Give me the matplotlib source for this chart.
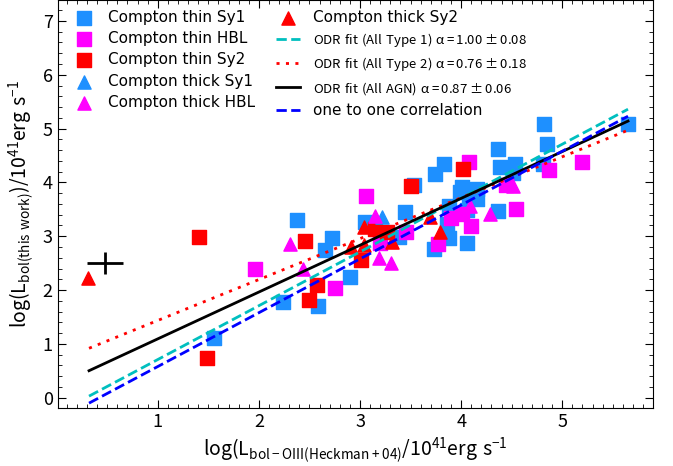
import numpy as np
import matplotlib
matplotlib.use('Agg')
import matplotlib.pyplot as plt
from matplotlib.ticker import MultipleLocator

plt.rcParams['mathtext.fontset'] = 'custom'
plt.rcParams['mathtext.rm'] = 'Noto Sans CJK JP'
plt.rcParams['mathtext.it'] = 'Noto Sans CJK JP'
plt.rcParams['mathtext.bf'] = 'Noto Sans CJK JP'

# Compton thin Sy1
thin_sy1_x = [2.38, 2.72, 2.65, 1.56, 2.24, 2.58, 2.90, 3.05, 3.44, 3.39, 4.82, 4.85, 5.65,
              4.81, 4.36, 4.38, 4.53, 4.51, 3.83, 3.74, 3.53, 4.01, 3.99, 4.16, 4.16, 3.88,
              4.36, 4.06, 3.86, 3.88, 3.73, 4.06, 4.08]
thin_sy1_y = [3.31, 2.97, 2.74, 1.11, 1.78, 1.70, 2.25, 3.27, 3.45, 2.99, 5.09, 4.71, 5.08,
              4.35, 4.63, 4.28, 4.35, 4.18, 4.34, 4.15, 3.96, 3.91, 3.83, 3.87, 3.70, 3.56,
              3.47, 3.48, 3.22, 2.96, 2.76, 2.87, 3.75]
# Compton thin HBL
thin_hbl_x = [1.96, 2.75, 3.06, 3.45, 3.20, 4.08, 5.20, 4.87, 4.44, 4.54, 4.01, 3.90, 4.10, 3.77]
thin_hbl_y = [2.40, 2.04, 3.75, 3.08, 2.87, 4.38, 4.38, 4.24, 3.95, 3.50, 3.42, 3.33, 3.19, 2.85]
# Compton thin Sy2
thin_sy2_x = [1.41, 1.49, 2.46, 2.57, 2.50, 3.01, 3.15, 3.27, 3.50, 4.02]
thin_sy2_y = [2.99, 0.73, 2.92, 2.09, 1.82, 2.56, 3.14, 3.08, 3.94, 4.25]
# Compton thick Sy1
thick_sy1_x = [3.22]
thick_sy1_y = [3.35]
# Compton thick HBL
thick_hbl_x = [2.31, 2.44, 3.15, 3.19, 3.31, 4.51, 4.09, 4.29]
thick_hbl_y = [2.85, 2.40, 3.37, 2.59, 2.50, 3.94, 3.56, 3.42]
# Compton thick Sy2
thick_sy2_x = [0.31, 2.91, 3.04, 3.04, 3.32, 3.79, 3.69]
thick_sy2_y = [2.22, 2.80, 3.18, 2.83, 2.90, 3.08, 3.35]

# fits: slope, intercept
fit_labels = [r'$\mathrm{ODR\ fit\ (All\ Type\ 1)}\ \alpha=1.00\pm0.08$',
              r'$\mathrm{ODR\ fit\ (All\ Type\ 2)}\ \alpha=0.76\pm0.18$',
              r'$\mathrm{ODR\ fit\ (All\ AGN)}\ \alpha=0.87\pm0.06$',
              'one to one correlation']
fit_slope = [1.00, 0.76, 0.87, 1.00]
fit_icept = [-0.29, 0.676, 0.224, -0.42]
fit_styles = [('c', (0, (3.7, 1.6))), ('r', (0, (1.1, 2.3))), ('k', '-'), ('b', (0, (3.7, 1.6)))]
fit_range = [0.32, 5.65]

# typical error
err_x, err_y, err_dx, err_dy = 0.48, 2.5, 0.18, 0.2

fig = plt.figure(figsize=(6.73, 4.66), dpi=100)
ax = fig.add_axes([0.0857, 0.1245, 0.885, 0.8745])

ms = 90
handles = []
handles.append(ax.scatter(thin_sy1_x, thin_sy1_y, s=ms, marker='s', color='dodgerblue', label='Compton thin Sy1'))
handles.append(ax.scatter(thin_hbl_x, thin_hbl_y, s=ms, marker='s', color='magenta', label='Compton thin HBL'))
handles.append(ax.scatter(thin_sy2_x, thin_sy2_y, s=ms, marker='s', color='red', label='Compton thin Sy2'))
handles.append(ax.scatter(thick_sy1_x, thick_sy1_y, s=ms, marker='^', color='dodgerblue', label='Compton thick Sy1'))
handles.append(ax.scatter(thick_hbl_x, thick_hbl_y, s=ms, marker='^', color='magenta', label='Compton thick HBL'))
handles.append(ax.scatter(thick_sy2_x, thick_sy2_y, s=ms, marker='^', color='red', label='Compton thick Sy2'))

xx = np.array(fit_range)
for k in range(len(fit_slope)):
    c, ls = fit_styles[k]
    h, = ax.plot(xx, fit_slope[k] * xx + fit_icept[k], color=c, ls=ls, lw=2, label=fit_labels[k])
    handles.append(h)

ax.errorbar([err_x], [err_y], xerr=[err_dx], yerr=[err_dy], fmt='none', ecolor='k', elinewidth=2)

ax.set_xlim(0.01, 5.9)
ax.set_ylim(-0.19, 7.38)
ax.xaxis.set_major_locator(MultipleLocator(1))
ax.xaxis.set_minor_locator(MultipleLocator(0.1))
ax.yaxis.set_major_locator(MultipleLocator(1))
ax.yaxis.set_minor_locator(MultipleLocator(0.2))
ax.tick_params(which='both', direction='in', top=True, right=True)
ax.tick_params(which='major', length=6, labelsize=13)
ax.tick_params(which='minor', length=3)
for lab in ax.get_xticklabels() + ax.get_yticklabels():
    lab.set_fontfamily('Noto Sans CJK JP')

ax.set_xlabel(r'$\mathrm{log(L_{bol-OIII(Heckman+04)}/10^{41}erg\ s^{-1}}$', fontsize=14)
ax.set_ylabel(r'$\mathrm{log(L_{bol(this\ work)})/10^{41}erg\ s^{-1}}$', fontsize=14)

leg = ax.legend(handles=handles, ncol=2, loc='upper left', bbox_to_anchor=(0.008, 1.0),
                frameon=False, fontsize=11, scatterpoints=1, handlelength=1.6,
                labelspacing=0.42, columnspacing=1.35, borderaxespad=0.2)
for t in leg.get_texts()[6:9]:
    t.set_fontsize(9.5)

fig.savefig('out.png', dpi=100)
